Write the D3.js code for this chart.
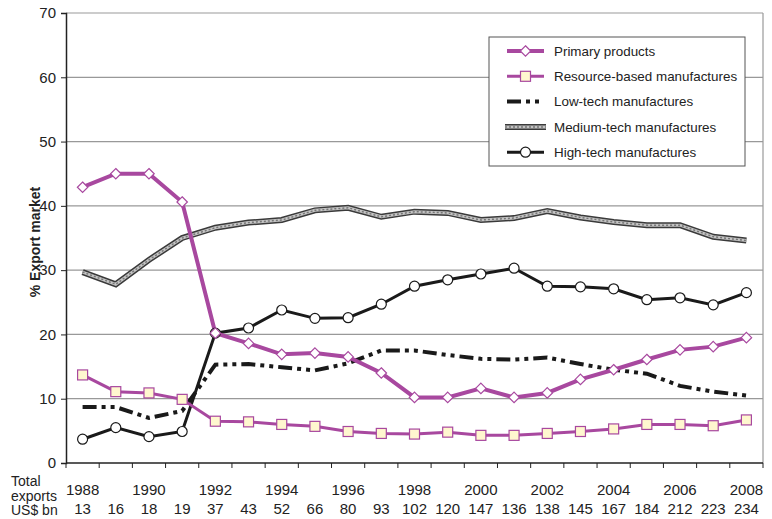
<!DOCTYPE html>
<html>
<head>
<meta charset="utf-8">
<script src="https://cdn.jsdelivr.net/npm/d3@7"></script>
<style>
  body { margin: 0; background: #fff; }
  svg { font-family: "Liberation Sans", Arial, sans-serif; }
</style>
</head>
<body>
<div id="chart"></div>
<script>
// data
const years = d3.range(1988, 2009);
const totalExports = [13, 16, 18, 19, 37, 43, 52, 66, 80, 93, 102, 120, 147, 136, 138, 145, 167, 184, 212, 223, 234];
const yTicks = [0, 10, 20, 30, 40, 50, 60, 70];

const primary = [42.9, 45.0, 45.0, 40.6, 20.2, 18.6, 16.9, 17.1, 16.5, 14.0, 10.2, 10.2, 11.6, 10.2, 10.9, 13.0, 14.5, 16.1, 17.6, 18.1, 19.5];
const resource = [13.7, 11.1, 10.9, 9.9, 6.5, 6.4, 6.0, 5.7, 4.9, 4.6, 4.5, 4.8, 4.3, 4.3, 4.6, 4.9, 5.3, 6.0, 6.0, 5.8, 6.7];
const lowTech = [8.7, 8.7, 7.0, 8.1, 15.3, 15.4, 14.9, 14.4, 15.5, 17.5, 17.5, 16.8, 16.2, 16.1, 16.4, 15.4, 14.5, 13.9, 12.0, 11.1, 10.5];
const mediumTech = [29.7, 27.8, 31.6, 35.0, 36.6, 37.4, 37.8, 39.3, 39.7, 38.3, 39.1, 38.9, 37.8, 38.1, 39.2, 38.2, 37.5, 37.0, 37.0, 35.2, 34.6];
const highTech = [3.7, 5.5, 4.1, 4.9, 20.2, 21.0, 23.8, 22.5, 22.6, 24.7, 27.5, 28.5, 29.4, 30.3, 27.5, 27.4, 27.1, 25.4, 25.7, 24.6, 26.5];

const seriesNames = ["Primary products", "Resource-based manufactures", "Low-tech manufactures", "Medium-tech manufactures", "High-tech manufactures"];

const magenta = "#a8489f";

const svg = d3.select("#chart").append("svg")
    .attr("width", 772)
    .attr("height", 519);

const plot = { left: 66, right: 763, top: 13, bottom: 463 };

const x = d3.scaleBand().domain(years).range([plot.left, plot.right]);
const y = d3.scaleLinear().domain([0, 70]).range([plot.bottom, plot.top]);
const cx = d => x(d) + x.bandwidth() / 2;

// grid lines + frame
svg.append("g").selectAll("line")
    .data(yTicks.filter(d => d > 0))
    .enter().append("line")
    .attr("x1", plot.left).attr("x2", plot.right)
    .attr("y1", d => y(d)).attr("y2", d => y(d))
    .attr("stroke", "#999").attr("stroke-width", 1.2);

svg.append("line")
    .attr("x1", plot.right).attr("x2", plot.right)
    .attr("y1", plot.top).attr("y2", plot.bottom)
    .attr("stroke", "#999").attr("stroke-width", 1.2);

// y axis
const yAxis = svg.append("g")
    .attr("transform", `translate(${plot.left},0)`)
    .call(d3.axisLeft(y).tickValues(yTicks).tickSize(5).tickPadding(5));
yAxis.select(".domain").attr("stroke", "#222").attr("stroke-width", 1.5);
yAxis.selectAll(".tick line").attr("stroke", "#222");
yAxis.selectAll("text").style("font-size", "15px").attr("fill", "#222");

svg.append("text")
    .attr("transform", `translate(40, ${(plot.top + plot.bottom) / 2 + 4}) rotate(-90)`)
    .attr("text-anchor", "middle")
    .style("font-size", "14px")
    .style("font-weight", "bold")
    .attr("fill", "#222")
    .text("% Export market");

// x axis: ticks sit on category boundaries
svg.append("line")
    .attr("x1", plot.left).attr("x2", plot.right)
    .attr("y1", plot.bottom).attr("y2", plot.bottom)
    .attr("stroke", "#222").attr("stroke-width", 1.5);

svg.append("g").selectAll("line")
    .data(years.map(d => x(d)).concat([plot.right]))
    .enter().append("line")
    .attr("x1", d => d).attr("x2", d => d)
    .attr("y1", plot.bottom).attr("y2", plot.bottom + 5)
    .attr("stroke", "#222");

svg.append("g").selectAll("text")
    .data(years.filter(d => d % 2 === 0))
    .enter().append("text")
    .attr("x", d => cx(d))
    .attr("y", 495)
    .attr("text-anchor", "middle")
    .style("font-size", "15px")
    .attr("fill", "#222")
    .text(d => d);

svg.append("g").selectAll("text")
    .data(years)
    .enter().append("text")
    .attr("x", d => cx(d))
    .attr("y", 514)
    .attr("text-anchor", "middle")
    .style("font-size", "15px")
    .attr("fill", "#222")
    .text((d, i) => totalExports[i]);

svg.append("g").selectAll("text")
    .data(["Total", "exports", "US$ bn"])
    .enter().append("text")
    .attr("x", 11)
    .attr("y", (d, i) => 486 + i * 14.5)
    .style("font-size", "14px")
    .attr("fill", "#222")
    .text(d => d);

// lines
const line = d3.line().x((d, i) => cx(years[i])).y(d => y(d));

// medium-tech: textured double line
svg.append("path").attr("d", line(mediumTech))
    .attr("fill", "none").attr("stroke", "#3a3a3a").attr("stroke-width", 6);
svg.append("path").attr("d", line(mediumTech))
    .attr("fill", "none").attr("stroke", "#c4c4c4").attr("stroke-width", 3);
svg.append("path").attr("d", line(mediumTech))
    .attr("fill", "none").attr("stroke", "#777").attr("stroke-width", 1.5)
    .attr("stroke-dasharray", "2,2");

// low-tech: dash dot dot
svg.append("path").attr("d", line(lowTech))
    .attr("fill", "none").attr("stroke", "#1a1a1a").attr("stroke-width", 4)
    .attr("stroke-dasharray", "14,5,4,5,4,5");

// high-tech
svg.append("path").attr("d", line(highTech))
    .attr("fill", "none").attr("stroke", "#1a1a1a").attr("stroke-width", 3);

// resource-based
svg.append("path").attr("d", line(resource))
    .attr("fill", "none").attr("stroke", magenta).attr("stroke-width", 3);

// primary
svg.append("path").attr("d", line(primary))
    .attr("fill", "none").attr("stroke", magenta).attr("stroke-width", 4);

// markers
svg.append("g").selectAll("circle")
    .data(highTech)
    .enter().append("circle")
    .attr("cx", (d, i) => cx(years[i]))
    .attr("cy", d => y(d))
    .attr("r", 5)
    .attr("fill", "#fff").attr("stroke", "#1a1a1a").attr("stroke-width", 1.2);

svg.append("g").selectAll("rect")
    .data(resource)
    .enter().append("rect")
    .attr("x", (d, i) => cx(years[i]) - 5)
    .attr("y", d => y(d) - 5)
    .attr("width", 10).attr("height", 10)
    .attr("fill", "#fff7cf").attr("stroke", magenta).attr("stroke-width", 1.2);

const diamond = d3.symbol().type(d3.symbolDiamond2).size(70);
svg.append("g").selectAll("path")
    .data(primary)
    .enter().append("path")
    .attr("d", diamond)
    .attr("transform", (d, i) => `translate(${cx(years[i])},${y(d)})`)
    .attr("fill", "#fff").attr("stroke", magenta).attr("stroke-width", 1.2);

// legend
const legend = svg.append("g").attr("transform", "translate(489,37)");
legend.append("rect")
    .attr("width", 256).attr("height", 129)
    .attr("fill", "#fff").attr("stroke", "#555").attr("stroke-width", 1);

const items = legend.selectAll(".legend-item")
    .data(seriesNames)
    .enter().append("g")
    .attr("class", "legend-item")
    .attr("transform", (d, i) => `translate(0, ${14 + i * 25.3})`);

items.append("text")
    .attr("x", 65)
    .attr("dy", "0.35em")
    .style("font-size", "13.4px")
    .attr("fill", "#222")
    .text(d => d);

const lx1 = 18, lx2 = 55, lm = (lx1 + lx2) / 2;
const legendItem = i => d3.select(items.nodes()[i]);

legendItem(0).append("line").attr("x1", lx1).attr("x2", lx2)
    .attr("stroke", magenta).attr("stroke-width", 4);
legendItem(0).append("path").attr("d", diamond)
    .attr("transform", `translate(${lm},0)`)
    .attr("fill", "#fff").attr("stroke", magenta).attr("stroke-width", 1.2);

legendItem(1).append("line").attr("x1", lx1).attr("x2", lx2)
    .attr("stroke", magenta).attr("stroke-width", 3);
legendItem(1).append("rect")
    .attr("x", lm - 5).attr("y", -5).attr("width", 10).attr("height", 10)
    .attr("fill", "#fff7cf").attr("stroke", magenta).attr("stroke-width", 1.2);

legendItem(2).append("line").attr("x1", lx1).attr("x2", lx2)
    .attr("stroke", "#1a1a1a").attr("stroke-width", 4)
    .attr("stroke-dasharray", "14,5,4,5,4,5");

legendItem(3).append("line").attr("x1", lx1 - 2).attr("x2", lx2 + 2)
    .attr("stroke", "#3a3a3a").attr("stroke-width", 6);
legendItem(3).append("line").attr("x1", lx1 - 2).attr("x2", lx2 + 2)
    .attr("stroke", "#c4c4c4").attr("stroke-width", 3);
legendItem(3).append("line").attr("x1", lx1 - 2).attr("x2", lx2 + 2)
    .attr("stroke", "#777").attr("stroke-width", 1.5)
    .attr("stroke-dasharray", "2,2");

legendItem(4).append("line").attr("x1", lx1).attr("x2", lx2)
    .attr("stroke", "#1a1a1a").attr("stroke-width", 3);
legendItem(4).append("circle").attr("cx", lm).attr("r", 5)
    .attr("fill", "#fff").attr("stroke", "#1a1a1a").attr("stroke-width", 1.2);
</script>
</body>
</html>
